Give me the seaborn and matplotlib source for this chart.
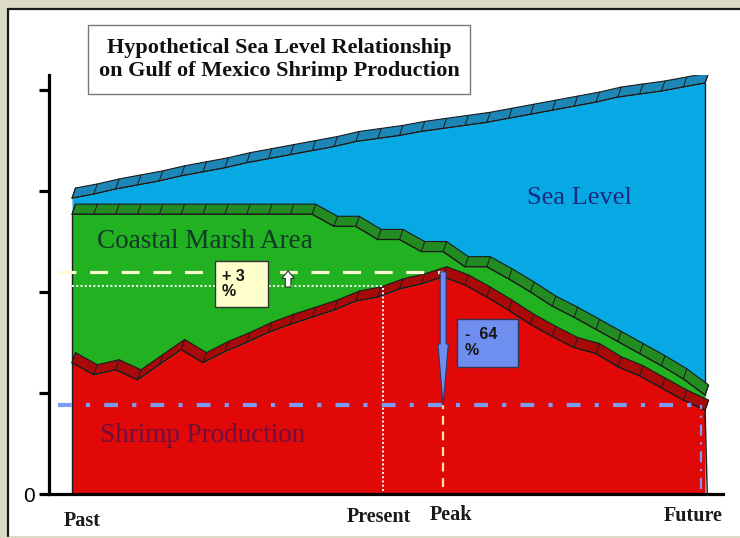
import matplotlib
matplotlib.use("Agg")
import matplotlib.pyplot as plt
from matplotlib.patches import Rectangle, Polygon
from matplotlib.lines import Line2D
import numpy as np
import pandas as pd
import seaborn as sns

# ---- data -------------------------------------------------------------
steps = list(range(30))
sea_level = [2.93, 2.97, 3.02, 3.06, 3.10, 3.15, 3.19, 3.23, 3.28, 3.32,
             3.36, 3.40, 3.44, 3.49, 3.52, 3.55, 3.59, 3.62, 3.65, 3.68,
             3.72, 3.76, 3.80, 3.84, 3.88, 3.93, 3.96, 3.99, 4.03, 4.07]
marsh_top = [2.77, 2.77, 2.77, 2.77, 2.77, 2.77, 2.77, 2.77, 2.77, 2.77,
             2.77, 2.77, 2.65, 2.65, 2.52, 2.52, 2.40, 2.40, 2.25, 2.25,
             2.13, 2.00, 1.86, 1.75, 1.63, 1.51, 1.39, 1.27, 1.14, 0.98]
shrimp = [1.30, 1.18, 1.23, 1.13, 1.28, 1.43, 1.30, 1.41, 1.50, 1.60,
          1.68, 1.75, 1.82, 1.91, 1.95, 2.03, 2.08, 2.15, 2.07, 1.95,
          1.82, 1.68, 1.56, 1.45, 1.39, 1.26, 1.17, 1.05, 0.93, 0.83]

present_step, present_level = 14.25, 2.06
peak_step, peak_level = 17, 2.20
future_step, future_level = 28.8, 0.88

time_labels = ["Past", "Present", "Peak", "Future"]
layer_labels = ["Sea Level", "Coastal Marsh Area", "Shrimp Production"]
gain_text = "+ 3\n%"
loss_text = "-  64\n%"

df = pd.DataFrame({"step": steps, "sea": sea_level,
                   "marsh": marsh_top, "shrimp": shrimp})

# ---- style ------------------------------------------------------------
sns.set_theme(style="white")
plt.rcParams["font.family"] = ["Liberation Serif", "DejaVu Serif"]

W, H = 740, 538
fig = plt.figure(figsize=(W / 100, H / 100), dpi=100, facecolor="#dcdcc6")

# white panel with a dark upper/left rim
fig.add_artist(Rectangle((7 / W, 2 / H), 1.0, (529 - 2) / H,
                         transform=fig.transFigure, fc="white", ec="none",
                         zorder=-2))
fig.add_artist(Line2D([8 / W, 8 / W], [2 / H, 529 / H],
                      transform=fig.transFigure, color="#1a1a1a", lw=1.6,
                      zorder=-1))
fig.add_artist(Line2D([8 / W, 1.0], [529 / H, 529 / H],
                      transform=fig.transFigure, color="#1a1a1a", lw=1.6,
                      zorder=-1))

ax = fig.add_axes([49 / W, (H - 494) / H, (723 - 49) / W, (494 - 75) / H])
ax.set_facecolor("none")
ax.set_xlim(-1.054, 29.82)
ax.set_ylim(0, 4.149)

x = df["step"].to_numpy(float)
DX, DY = 0.16, 0.10          # depth offset of the bevelled top face
EDGE = "#1b1b1b"


def bevel(values, face, z):
    y = np.asarray(values, float)
    top = np.column_stack([x + DX, y + DY])
    front = np.column_stack([x, y])
    ax.add_patch(Polygon(np.vstack([front, top[::-1]]), closed=True,
                         fc=face, ec=EDGE, lw=0.8, zorder=z))
    for xi, yi in zip(x, y):
        ax.plot([xi, xi + DX], [yi, yi + DY], color=EDGE, lw=0.7, zorder=z)


# sea level layer
ax.fill_between(x, df["marsh"], df["sea"], color="#07a9e4", lw=0, zorder=1)
ax.plot([x[-1], x[-1]], [marsh_top[-1], sea_level[-1]], color=EDGE, lw=1,
        zorder=1.1)
bevel(sea_level, "#1c86b6", 1.2)
sns.lineplot(data=df, x="step", y="sea", color=EDGE, lw=0.8, ax=ax,
             zorder=1.3)

# coastal marsh layer
ax.fill_between(x, df["shrimp"], df["marsh"], color="#21b121", lw=0, zorder=2)
ax.plot([x[0], x[0]], [shrimp[0], marsh_top[0]], color=EDGE, lw=1, zorder=2.1)
bevel(marsh_top, "#228b22", 2.2)
sns.lineplot(data=df, x="step", y="marsh", color=EDGE, lw=0.8, ax=ax,
             zorder=2.3)

# shrimp production layer
ax.fill_between(x, 0, df["shrimp"], color="#e10808", lw=0, zorder=3)
ax.plot([x[0], x[0]], [0, shrimp[0]], color=EDGE, lw=1, zorder=3.1)
ax.plot([x[-1], x[-1] + 0.1], [shrimp[-1], 0], color=EDGE, lw=1, zorder=3.1)
bevel(shrimp, "#a80a0a", 3.2)
sns.lineplot(data=df, x="step", y="shrimp", color=EDGE, lw=0.8, ax=ax,
             zorder=3.3)

# reference lines
ax.plot([-0.64, peak_step], [peak_level, peak_level], color="#fffbd0",
        lw=2.3, ls=(0, (5.6, 4.3)), zorder=5)
ax.plot([0, present_step], [present_level, present_level], color="white",
        lw=1.4, ls=(0, (1, 1.2)), zorder=5)
ax.plot([present_step, present_step], [0.03, present_level], color="white",
        lw=1.4, ls=(0, (1, 1.2)), zorder=5)
ax.plot([peak_step, peak_step], [0.07, future_level], color="#ffe3a8",
        lw=1.6, ls=(0, (4, 3)), zorder=5)
ax.plot([-0.64, future_step + 0.2], [future_level, future_level],
        color="#7b9cf2", lw=3.0, ls=(0, (3.3, 3.4, 1.0, 3.4)), zorder=5)
ax.plot([future_step, future_step], [0.05, future_level], color="#7b9cf2",
        lw=1.6, ls=(0, (5, 3, 1, 3)), zorder=5)

# decline arrow from peak
ax.annotate("", xy=(peak_step, future_level), xytext=(peak_step, peak_level),
            arrowprops=dict(arrowstyle="simple,head_length=4.4,head_width=0.75,"
                                       "tail_width=0.42",
                            fc="#6f8ff0", ec="#33336a", lw=0.8,
                            mutation_scale=10, shrinkA=0, shrinkB=0),
            zorder=6)
# small gain arrow
ax.annotate("", xy=(9.9, 2.21), xytext=(9.9, 2.05),
            arrowprops=dict(arrowstyle="simple,head_length=0.55,head_width=0.9,"
                                       "tail_width=0.4",
                            fc="white", ec="#333333", lw=0.8,
                            mutation_scale=10, shrinkA=0, shrinkB=0),
            zorder=6)

# percentage boxes
box_font = dict(family=["Liberation Sans Narrow", "Liberation Sans"],
                weight="bold", size=11.5, color="#151515")
ax.add_patch(Rectangle((6.55, 1.85), 2.43, 0.46, fc="#ffffcc", ec="#333333",
                       lw=1, zorder=6))
ax.text(6.85, 2.08, gain_text, va="center", ha="left", linespacing=1.05,
        zorder=7, **box_font)
ax.add_patch(Rectangle((17.64, 1.26), 2.79, 0.47, fc="#6f8ff0",
                       ec="#333355", lw=1, zorder=6))
ax.text(18.0, 1.50, loss_text, va="center", ha="left", linespacing=1.05,
        zorder=7, **box_font)

# layer names
ax.text(20.84, 2.93, layer_labels[0], fontsize=19, color="#1a2a80",
        ha="left", va="center", zorder=7)
ax.text(1.15, 2.50, layer_labels[1], fontsize=19.5, color="#123a2c",
        ha="left", va="center", zorder=7)
ax.text(1.28, 0.58, layer_labels[2], fontsize=19.5, color="#6b1040",
        ha="left", va="center", zorder=7)

# axes styling
for side in ("top", "right"):
    ax.spines[side].set_visible(False)
for side in ("left", "bottom"):
    ax.spines[side].set_color("black")
    ax.spines[side].set_linewidth(2.3)
    ax.spines[side].set_zorder(8)
ax.set_xticks([])
ax.set_yticks([0, 1, 2, 3, 4])
ax.set_yticklabels(["0", "", "", "", ""])
ax.tick_params(axis="y", direction="out", length=7, width=2.3, pad=3.5,
               labelsize=15, colors="black", left=True)
for lab in ax.get_yticklabels():
    lab.set_family(["Liberation Sans", "DejaVu Sans"])
ax.set_xlabel("")
ax.set_ylabel("")
ax.grid(False)

# time labels under the axis
for label, (px, py) in zip(time_labels, [(82, 521), (379, 517), (451, 515),
                                         (693, 516)]):
    fig.text(px / W, 1 - py / H, label, ha="center", va="center",
             fontsize=14.5, fontweight="bold", color="#1a1a1a")

# title box
fig.add_artist(Rectangle((88 / W, 1 - 94 / H), (470 - 88) / W, (94 - 25) / H,
                         transform=fig.transFigure, fc="white", ec="#777777",
                         lw=1, zorder=9))
fig.text(279 / W, 1 - 59.5 / H,
         "Hypothetical Sea Level Relationship\non Gulf of Mexico Shrimp Production",
         ha="center", va="center", fontsize=16, fontweight="bold",
         linespacing=1.15, color="#111111", zorder=10)

fig.savefig("out.png", dpi=100, facecolor=fig.get_facecolor())
